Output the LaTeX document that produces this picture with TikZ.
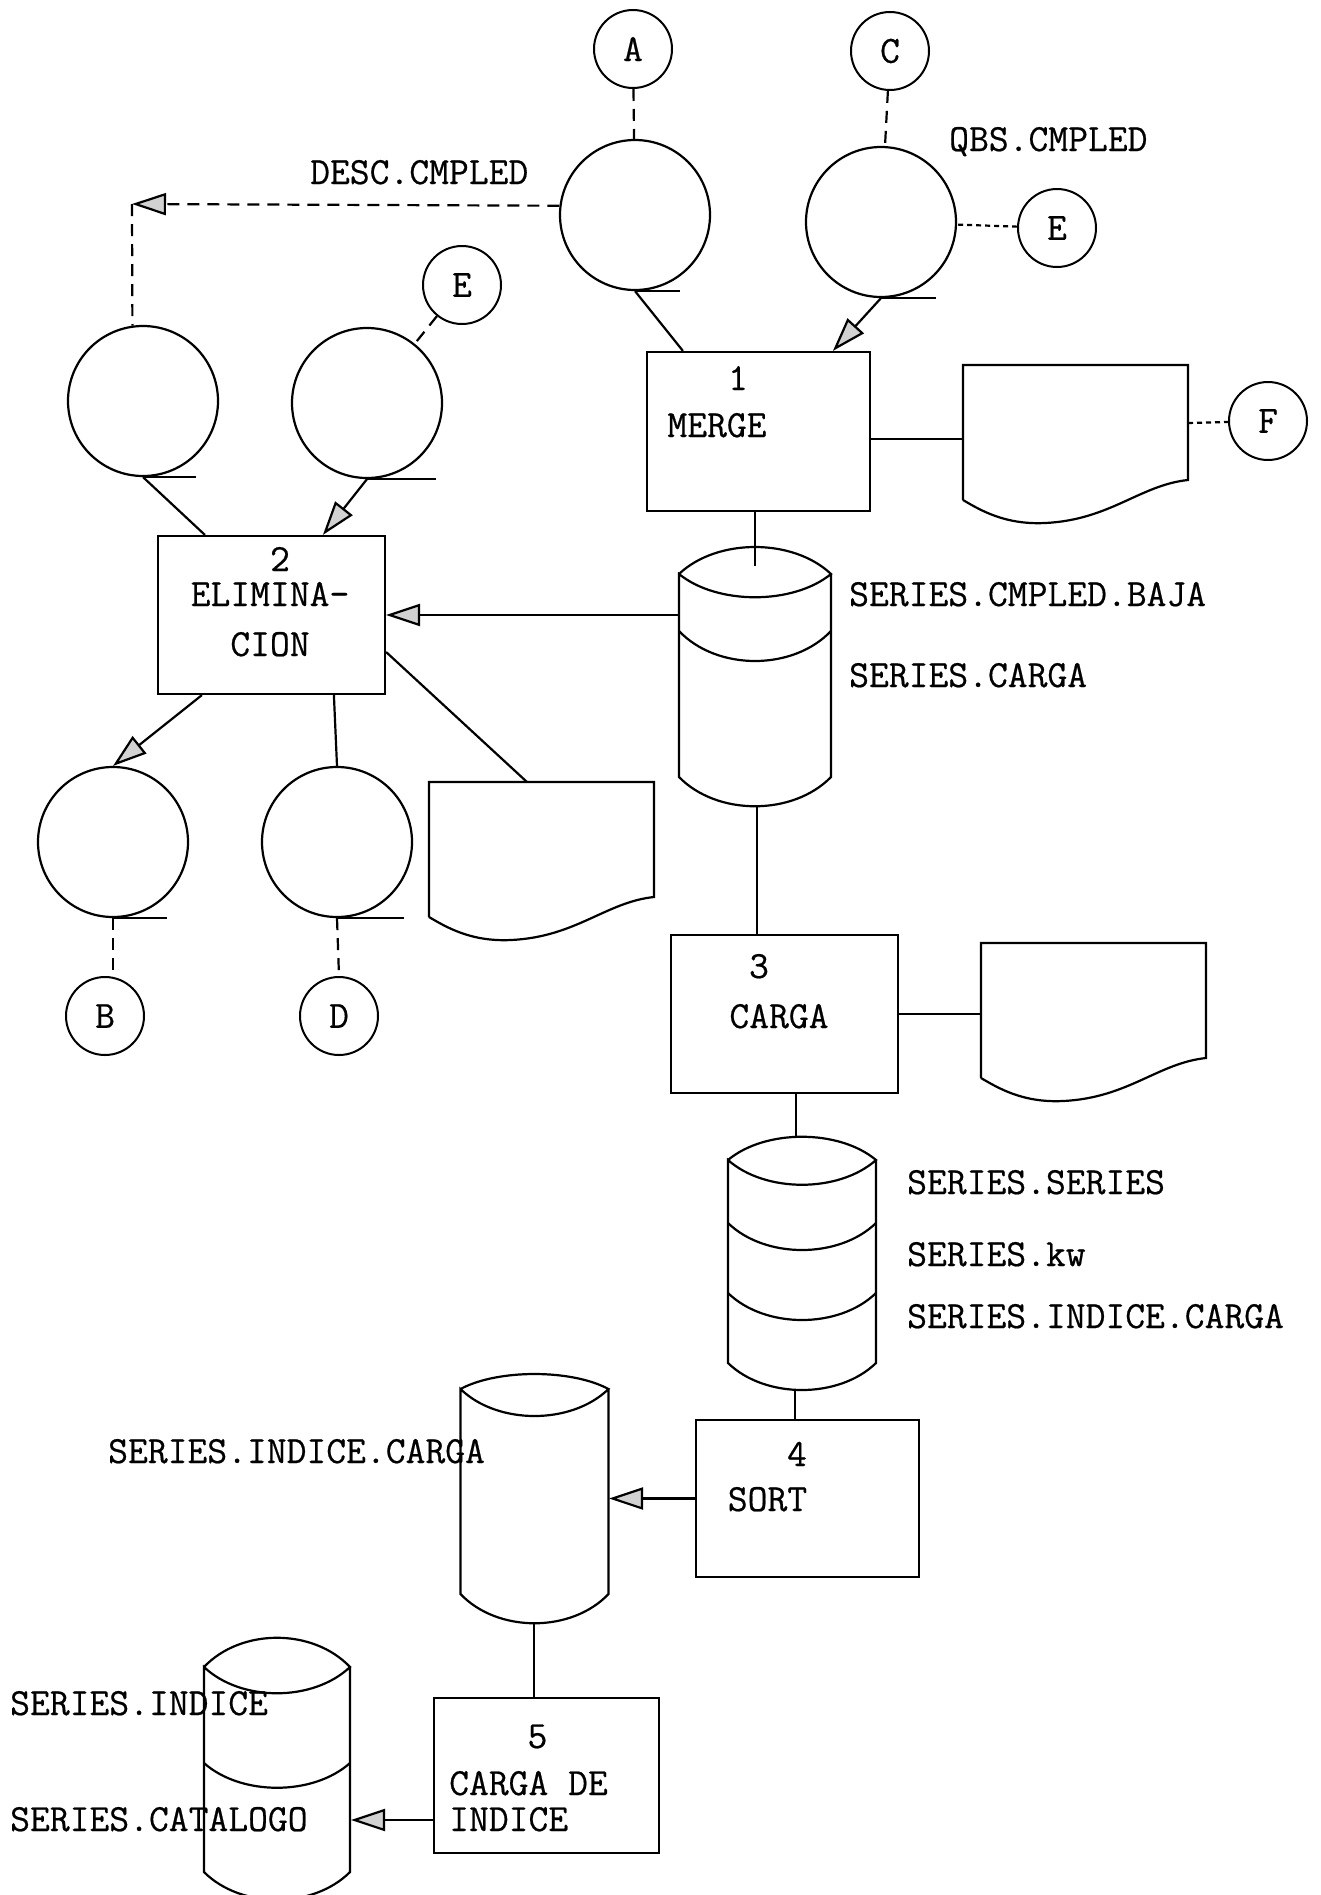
\documentclass[tikz,border=0pt]{standalone}
\usepackage{fontspec}
\newfontfamily\tw{Latin Modern Mono}[FakeBold=0.5]
\usetikzlibrary{arrows.meta,calc}
\newcommand\docshape[2]{\draw[ln,shift={(#1,#2)}] (0,135) -- (0,0) -- (225,0) -- (225,115) .. controls (177,120) and (147,155) .. (82,158) .. controls (42,160) and (17,145) .. (0,135);}
\begin{document}
\begin{tikzpicture}[x=1pt,y=-1pt,
  every node/.style={font=\tw\fontsize{38.5}{42}\selectfont},
  ln/.style={line width=2.2pt},
  conn/.style={circle,draw,line width=2pt,minimum size=78pt,inner sep=0pt},
  reel/.style={circle,draw,line width=2.2pt,minimum size=150pt,inner sep=0pt},
  proc/.style={rectangle,draw,line width=2.2pt,inner sep=0pt},
  lbl/.style={anchor=base west,inner sep=0pt,text height=24pt,text depth=0pt},
  ctxt/.style={anchor=base,inner sep=0pt,text height=24pt,text depth=0pt},
  flow/.style={-{Triangle[length=34pt,width=22pt,fill=gray!35]}},
  dsh/.style={dash pattern=on 12pt off 8pt},
  fineDash/.style={dash pattern=on 5pt off 4pt},
]
\fill[white] (0,0) rectangle (1320,1895);
\useasboundingbox (0,0) rectangle (1320,1895);

% connector circles
\node[conn] (A) at (633,49) {A};
\node[conn] (C) at (890,51) {C};
\node[conn] (E1) at (1057,228) {E};
\node[conn] (E2) at (462,285) {E};
\node[conn] (F) at (1268,421) {F};
\node[conn] (B) at (105,1016) {B};
\node[conn] (D) at (339,1016) {D};

% tape reels
\node[reel] (tA) at (635,215) {};
\node[reel] (tC) at (881,222) {};
\node[reel] (tL1) at (143,401) {};
\node[reel] (tL2) at (367,403) {};
\node[reel] (tB) at (113,842) {};
\node[reel] (tD) at (337,842) {};
\draw[ln] (tA.south) -- ++(45,0);
\draw[ln] (tC.south) -- ++(55,0);
\draw[ln] (tL1.south) -- ++(53,0);
\draw[ln] (tL2.south) -- ++(69,0);
\draw[ln] (tB.south) -- ++(54,0);
\draw[ln] (tD.south) -- ++(67,0);

% process boxes
\node[proc,minimum width=223pt,minimum height=159pt] (box1) at (758.5,431.5) {};
\node[proc,minimum width=227pt,minimum height=158pt] (box2) at (271.5,615) {};
\node[proc,minimum width=227pt,minimum height=158pt] (box3) at (784.5,1014) {};
\node[proc,minimum width=223pt,minimum height=157pt] (box4) at (807.5,1498.5) {};
\node[proc,minimum width=225pt,minimum height=155pt] (box5) at (546.5,1775.5) {};

\node[ctxt] (n1) at (738,390) {1};
\node[ctxt] (t1) at (717,437) {MERGE};
\node[ctxt] (n2) at (280,571) {2};
\node[ctxt] (t2a) at (270,606) {ELIMINA-};
\node[ctxt] (t2b) at (270,656) {CION};
\node[ctxt] (n3) at (759,978) {3};
\node[ctxt] (t3) at (779,1028) {CARGA};
\node[ctxt] (n4) at (797,1466) {4};
\node[ctxt] (t4) at (767.5,1511) {SORT};
\node[ctxt] (n5) at (537.5,1748) {5};
\node[lbl] (t5a) at (449,1795) {CARGA DE};
\node[lbl] (t5b) at (449,1831) {INDICE};

% documents
\docshape{963}{365}
\docshape{429}{782}
\docshape{981}{943}

% disk cylinders
\begin{scope}[shift={(755,574)}]
\draw[ln] (-76,0) .. controls (-38,-36) and (38,-36) .. (76,0) .. controls (38,31) and (-38,31) .. (-76,0) -- (-76,203) .. controls (-38,242) and (38,242) .. (76,203) -- (76,0);
\draw[ln] (-76,57) .. controls (-38,97) and (38,97) .. (76,57);
\end{scope}
\begin{scope}[shift={(802,1160)}]
\draw[ln] (-74,0) .. controls (-37,-31) and (37,-31) .. (74,0) .. controls (37,33) and (-37,33) .. (-74,0) -- (-74,203) .. controls (-37,239) and (37,239) .. (74,203) -- (74,0);
\draw[ln] (-74,63) .. controls (-37,99) and (37,99) .. (74,63);
\draw[ln] (-74,133) .. controls (-37,169) and (37,169) .. (74,133);
\end{scope}
\begin{scope}[shift={(534.5,1389)}]
\draw[ln] (-74,0) .. controls (-37,-20) and (37,-20) .. (74,0) .. controls (37,36) and (-37,36) .. (-74,0) -- (-74,205) .. controls (-37,244) and (37,244) .. (74,205) -- (74,0);
\end{scope}
\begin{scope}[shift={(277,1667)}]
\draw[ln] (-73,0) .. controls (-36,-39) and (36,-39) .. (73,0) .. controls (36,35) and (-36,35) .. (-73,0) -- (-73,205) .. controls (-36,242) and (36,242) .. (73,205) -- (73,0);
\draw[ln] (-73,96) .. controls (-36,129) and (36,129) .. (73,96);
\end{scope}

% named points
\coordinate (c1top) at (755,566);
\coordinate (c1bot) at (757,806);
\coordinate (c1left) at (679,615);
\coordinate (c2top) at (796,1137);
\coordinate (c2bot) at (795,1390);
\coordinate (c3right) at (609,1498.5);
\coordinate (c3bot) at (534,1622);
\coordinate (c4right) at (351,1820);
\coordinate (corner) at (132,204);
\coordinate (d1l) at (963,439);
\coordinate (d1r) at (1188,423);
\coordinate (d2t) at (527,782);
\coordinate (d3l) at (981,1014);

% labels
\node[lbl] (lDesc) at (310,184) {DESC.CMPLED};
\node[lbl] (lObs) at (949,151) {QBS.CMPLED};
\node[lbl] (lBaja) at (849,606) {SERIES.CMPLED.BAJA};
\node[lbl] (lCarga) at (849,687) {SERIES.CARGA};
\node[lbl] (lSer) at (907,1194) {SERIES.SERIES};
\node[lbl] (lKw) at (907,1266) {SERIES.kw};
\node[lbl] (lIdxR) at (907,1328) {SERIES.INDICE.CARGA};
\node[lbl] (lIdxL) at (108,1463) {SERIES.INDICE.CARGA};
\node[lbl] (lIdx) at (10,1715) {SERIES.INDICE};
\node[lbl] (lCat) at (10,1831) {SERIES.CATALOGO};

% connectors
\draw[ln,dsh] (A) -- (tA);
\draw[ln,dsh] (C) -- (tC);
\draw[ln,fineDash] (E1) -- (tC);
\draw[ln,dsh] (E2) -- (tL2);
\draw[ln,dsh,flow] (tA.173) -- (corner);
\draw[ln,dsh] (corner) -- (tL1.98);
\draw[ln] (tA.south) -- ($(box1.north west)+(37,0)$);
\draw[ln,flow] (tC.south) -- ($(box1.north west)+(187,0)$);
\draw[ln] (box1.east |- d1l) -- (d1l);
\draw[ln,fineDash] (d1r) -- (F);
\draw[ln] (c1top |- box1.south) -- (c1top);
\draw[ln,flow] (c1left) -- (box2.east);
\draw[ln] ($(box2.east)+(0,37)$) -- (d2t);
\draw[ln] (tL1.south) -- ($(box2.north west)+(48,0)$);
\draw[ln,flow] (tL2.south) -- ($(box2.north west)+(166,0)$);
\draw[ln,flow] ($(box2.south west)+(45,0)$) -- (tB.north);
\draw[ln] ($(box2.south west)+(177,0)$) -- (tD.north);
\draw[ln,dsh] (tB.south) -- (tB.south |- B.north);
\draw[ln,dsh] (tD.south) -- (D.north);
\draw[ln] (c1bot) -- (c1bot |- box3.north);
\draw[ln] (box3.east) -- (d3l);
\draw[ln] (c2top |- box3.south) -- (c2top);
\draw[ln] (c2bot) -- (c2bot |- box4.north);
\draw[ln,flow] (box4.west) -- (c3right);
\draw[ln] (c3bot) -- (c3bot |- box5.north);
\draw[ln,flow] (box5.west |- c4right) -- (c4right);
\end{tikzpicture}
\end{document}
